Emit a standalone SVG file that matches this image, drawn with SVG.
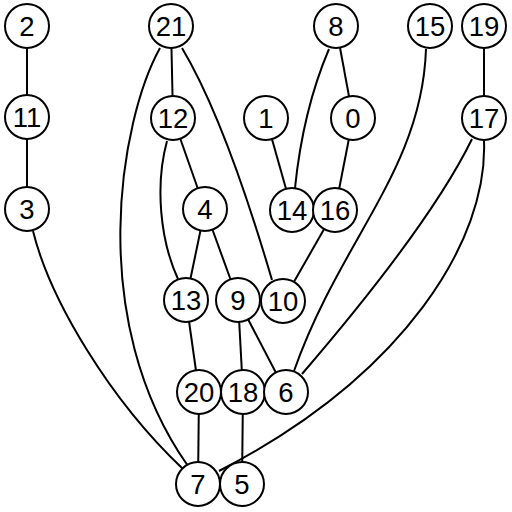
<svg xmlns="http://www.w3.org/2000/svg" width="512" height="512" viewBox="0 0 512 512">
<style>
.e{fill:none;stroke:#000;stroke-width:2}
.n circle{fill:#fff;stroke:#000;stroke-width:2}
.n text{font-family:"Liberation Sans",Arial,sans-serif;font-size:27.5px;text-anchor:middle;fill:#000}
</style>
<rect width="512" height="512" fill="#fff"/>
<g id="edges">
<path class="e" d="M27,26L27,117"/>
<path class="e" d="M27,117L27,209"/>
<path class="e" d="M33,231C50,300 110,400 183,469"/>
<path class="e" d="M171,26L173,118"/>
<path class="e" d="M160,48C120,120 85,320 188,466"/>
<path class="e" d="M182,48Q225,120 272,280"/>
<path class="e" d="M173,118L205,209"/>
<path class="e" d="M167,141C155,185 160,240 178,279"/>
<path class="e" d="M205,209L186,300"/>
<path class="e" d="M205,209L238,300"/>
<path class="e" d="M329,49Q303,110 295,188"/>
<path class="e" d="M336,26L353,118"/>
<path class="e" d="M266,118L292,210"/>
<path class="e" d="M353,118L335,210"/>
<path class="e" d="M335,210L283,301"/>
<path class="e" d="M426,49C422,170 340,240 294,371"/>
<path class="e" d="M484,26L484,118"/>
<path class="e" d="M472,139Q430,225 302,374"/>
<path class="e" d="M484,141C488,240 405,375 219,471"/>
<path class="e" d="M186,300L199,392"/>
<path class="e" d="M238,300L243,392"/>
<path class="e" d="M238,300L286,392"/>
<path class="e" d="M199,392L198,484"/>
<path class="e" d="M243,392L242,484"/>
</g>
<g id="n2" class="n"><circle cx="27" cy="26" r="22"/><text x="27" y="36">2</text></g>
<g id="n21" class="n"><circle cx="171" cy="26" r="22"/><text x="171" y="36">21</text></g>
<g id="n8" class="n"><circle cx="336" cy="26" r="22"/><text x="336" y="36">8</text></g>
<g id="n15" class="n"><circle cx="430" cy="26" r="22"/><text x="430" y="36">15</text></g>
<g id="n19" class="n"><circle cx="484" cy="26" r="22"/><text x="484" y="36">19</text></g>
<g id="n11" class="n"><circle cx="27" cy="117" r="22"/><text x="27" y="127">11</text></g>
<g id="n12" class="n"><circle cx="173" cy="118" r="22"/><text x="173" y="128">12</text></g>
<g id="n1" class="n"><circle cx="266" cy="118" r="22"/><text x="266" y="128">1</text></g>
<g id="n0" class="n"><circle cx="353" cy="118" r="22"/><text x="353" y="128">0</text></g>
<g id="n17" class="n"><circle cx="484" cy="118" r="22"/><text x="484" y="128">17</text></g>
<g id="n3" class="n"><circle cx="27" cy="209" r="22"/><text x="27" y="219">3</text></g>
<g id="n4" class="n"><circle cx="205" cy="209" r="22"/><text x="205" y="219">4</text></g>
<g id="n14" class="n"><circle cx="292" cy="210" r="22"/><text x="292" y="220">14</text></g>
<g id="n16" class="n"><circle cx="335" cy="210" r="22"/><text x="335" y="220">16</text></g>
<g id="n13" class="n"><circle cx="186" cy="300" r="22"/><text x="186" y="310">13</text></g>
<g id="n9" class="n"><circle cx="238" cy="300" r="22"/><text x="238" y="310">9</text></g>
<g id="n10" class="n"><circle cx="283" cy="301" r="22"/><text x="283" y="311">10</text></g>
<g id="n20" class="n"><circle cx="199" cy="392" r="22"/><text x="199" y="402">20</text></g>
<g id="n18" class="n"><circle cx="243" cy="392" r="22"/><text x="243" y="402">18</text></g>
<g id="n6" class="n"><circle cx="286" cy="392" r="22"/><text x="286" y="402">6</text></g>
<g id="n7" class="n"><circle cx="198" cy="484" r="22"/><text x="198" y="494">7</text></g>
<g id="n5" class="n"><circle cx="242" cy="484" r="22"/><text x="242" y="494">5</text></g>
</svg>
